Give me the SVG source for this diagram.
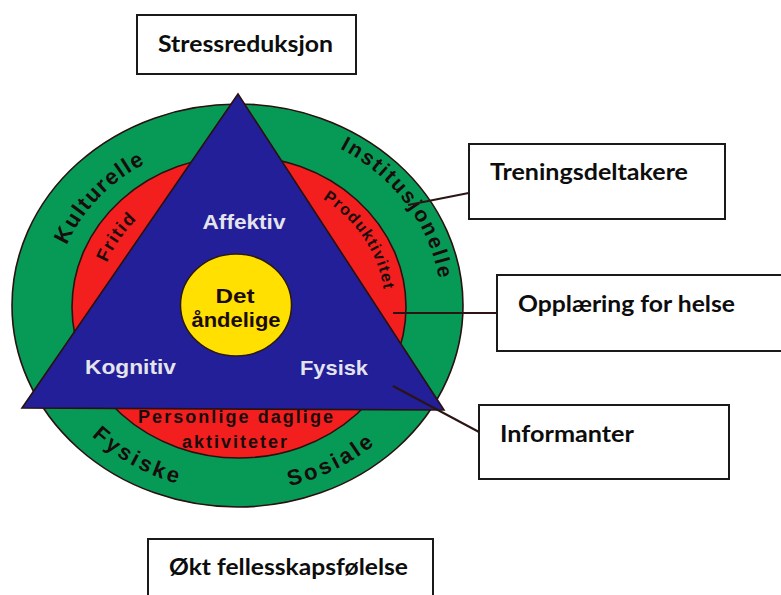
<svg xmlns="http://www.w3.org/2000/svg" width="781" height="595" viewBox="0 0 781 595">
<style>
.box{fill:#ffffff;stroke:#1a1a1a;stroke-width:2}
.bt{font-family:Lato,"Liberation Sans",sans-serif;font-weight:bold;font-size:22px;fill:#0d0d0d}
.ring{font-family:"Liberation Sans",Arial,sans-serif;font-weight:bold;fill:#1a0c0c}
.wt{font-family:"Liberation Sans",Arial,sans-serif;font-weight:bold;font-size:21px;fill:#e4e4ec;text-anchor:middle}
.conn{stroke:#2a1414;stroke-width:2;fill:none}
.edge{stroke:#2b1010;stroke-width:1.6}
</style>
<defs>
<path id="pK" d="M 54,306 A 184 165 0 0 1 422,306 A 184 165 0 0 1 54,306"/>
<path id="pI" d="M 35,306 A 203 182 0 0 1 441,306 A 203 182 0 0 1 35,306"/>
<path id="pF" d="M 98,307 A 141 127 0 0 1 380,307 A 141 127 0 0 1 98,307"/>
<path id="pP" d="M 93,307 A 146 132 0 0 1 385,307 A 146 132 0 0 1 93,307"/>
<path id="pB" d="M 33,305 A 205 187 0 0 0 443,305 A 205 187 0 0 0 33,305"/>
</defs>
<rect width="781" height="595" fill="#ffffff"/>

<g id="wheel">
<ellipse cx="237.5" cy="305.5" rx="225.5" ry="201.5" fill="#079a56" class="edge"/>
<ellipse cx="239" cy="307" rx="167" ry="151" fill="#f31f1f" class="edge"/>
</g>

<g id="triangle">
<polygon points="238,94 22,408 444,410" fill="#221f98" class="edge"/>
<text class="wt" x="244" y="229" textLength="83" lengthAdjust="spacingAndGlyphs">Affektiv</text>
<text class="wt" x="130.5" y="374" textLength="91" lengthAdjust="spacingAndGlyphs">Kognitiv</text>
<text class="wt" x="334" y="375" textLength="68" lengthAdjust="spacingAndGlyphs">Fysisk</text>
</g>

<g id="wheel-labels">
<text class="ring" font-size="22" letter-spacing="1.5" text-anchor="middle"><textPath href="#pK" startOffset="11%">Kulturelle</textPath></text>
<text class="ring" font-size="21" letter-spacing="2" text-anchor="middle"><textPath href="#pI" startOffset="40.8%">Institusjonelle</textPath></text>
<text class="ring" font-size="18" letter-spacing="1.5" text-anchor="middle"><textPath href="#pF" startOffset="8.6%">Fritid</textPath></text>
<text class="ring" font-size="16" letter-spacing="1.2" text-anchor="middle"><textPath href="#pP" startOffset="41.6%">Produktivitet</textPath></text>
<text class="ring" font-size="22" letter-spacing="3" text-anchor="middle"><textPath href="#pB" startOffset="16.1%">Fysiske</textPath></text>
<text class="ring" font-size="22" letter-spacing="3" text-anchor="middle"><textPath href="#pB" startOffset="33.2%">Sosiale</textPath></text>
<text class="ring" font-size="18" x="235.5" y="423" text-anchor="middle" textLength="195" lengthAdjust="spacing">Personlige daglige</text>
<text class="ring" font-size="18" x="234.5" y="448" text-anchor="middle" textLength="105" lengthAdjust="spacing">aktiviteter</text>
</g>

<g id="center">
<ellipse cx="236" cy="305" rx="55.5" ry="51" fill="#ffe000" stroke="#2b1a10" stroke-width="1.5"/>
<text class="ring" font-size="21" x="235" y="303" text-anchor="middle" textLength="39" lengthAdjust="spacingAndGlyphs">Det</text>
<text class="ring" font-size="21" x="236" y="327" text-anchor="middle" textLength="89" lengthAdjust="spacingAndGlyphs">åndelige</text>
</g>

<g id="connectors">
<line class="conn" x1="468.7" y1="193" x2="408" y2="205"/>
<line class="conn" x1="497" y1="313" x2="393" y2="313"/>
<line class="conn" x1="479" y1="432" x2="393" y2="386"/>
</g>

<g id="stressreduksjon">
<rect class="box" x="137" y="15" width="219" height="59"/>
<text class="bt" x="158" y="52" textLength="175" lengthAdjust="spacingAndGlyphs">Stressreduksjon</text>
</g>
<g id="treningsdeltakere">
<rect class="box" x="469" y="144" width="256" height="75"/>
<text class="bt" x="490" y="180" textLength="198" lengthAdjust="spacingAndGlyphs">Treningsdeltakere</text>
</g>
<g id="opplaering">
<rect class="box" x="497" y="275" width="290" height="76"/>
<text class="bt" x="518" y="312" textLength="217" lengthAdjust="spacingAndGlyphs">Opplæring for helse</text>
</g>
<g id="informanter">
<rect class="box" x="479" y="405" width="250" height="74"/>
<text class="bt" x="500" y="442" textLength="134" lengthAdjust="spacingAndGlyphs">Informanter</text>
</g>
<g id="okt">
<rect class="box" x="148" y="539" width="285" height="70"/>
<text class="bt" x="169" y="575" textLength="239" lengthAdjust="spacingAndGlyphs">Økt fellesskapsfølelse</text>
</g>
</svg>
